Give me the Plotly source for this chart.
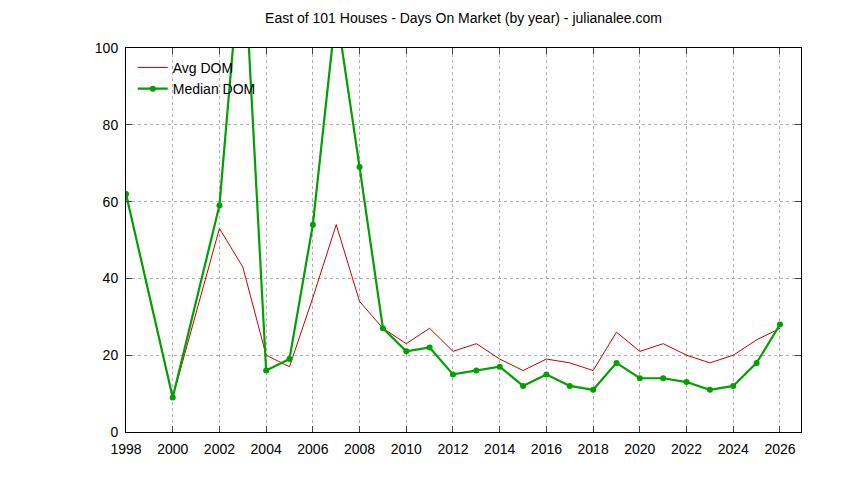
import plotly.graph_objects as go

years_avg = [1998,2000,2002,2003,2004,2005,2006,2007,2008,2009,2010,2011,2012,2013,2014,2015,2016,2017,2018,2019,2020,2021,2022,2023,2024,2025,2026]
avg_dom = [62,9,53,43,20,17,35,54,34,27,23,27,21,23,19,16,19,18,16,26,21,23,20,18,20,24,27]
years_med = years_avg
median_dom = [62,9,59,130,16,19,54,110,69,27,21,22,15,16,17,12,15,12,11,18,14,14,13,11,12,18,28]
xticks = list(range(1998, 2027, 2))

fig = go.Figure()
fig.add_trace(go.Scatter(x=years_avg, y=avg_dom, name="Avg DOM", mode="lines",
                         line=dict(color="#cc0000", width=1)))
fig.add_trace(go.Scatter(x=years_med, y=median_dom, name="Median DOM", mode="lines+markers",
                         line=dict(color="#00a000", width=2.2), marker=dict(size=6, color="#00a000")))
ax = dict(showline=True, linecolor="black", mirror="ticks", ticks="inside", ticklen=6,
          showgrid=True, gridcolor="#b0b0b0", griddash="dot", gridwidth=0.6, zeroline=False,
          tickfont=dict(size=14, color="black"), ticklabelstandoff=4)
fig.update_xaxes(range=[1998, 2026.9], tickvals=xticks, **ax)
fig.update_yaxes(range=[0, 100], dtick=20, **ax)
fig.update_layout(width=844, height=480, plot_bgcolor="white", paper_bgcolor="white",
                  margin=dict(l=118, r=51, t=40, b=56, autoexpand=False),
                  font=dict(family="Liberation Sans, Arial", size=14, color="black"),
                  title=dict(text="East of 101 Houses - Days On Market (by year) - julianalee.com",
                             x=0.5, xref="paper", yref="container", y=0.99, yanchor="top",
                             font=dict(size=14)),
                  legend=dict(x=0.01, y=0.99, bgcolor="rgba(0,0,0,0)", font=dict(size=14)),
                  showlegend=True)
fig.write_html("out.html")
